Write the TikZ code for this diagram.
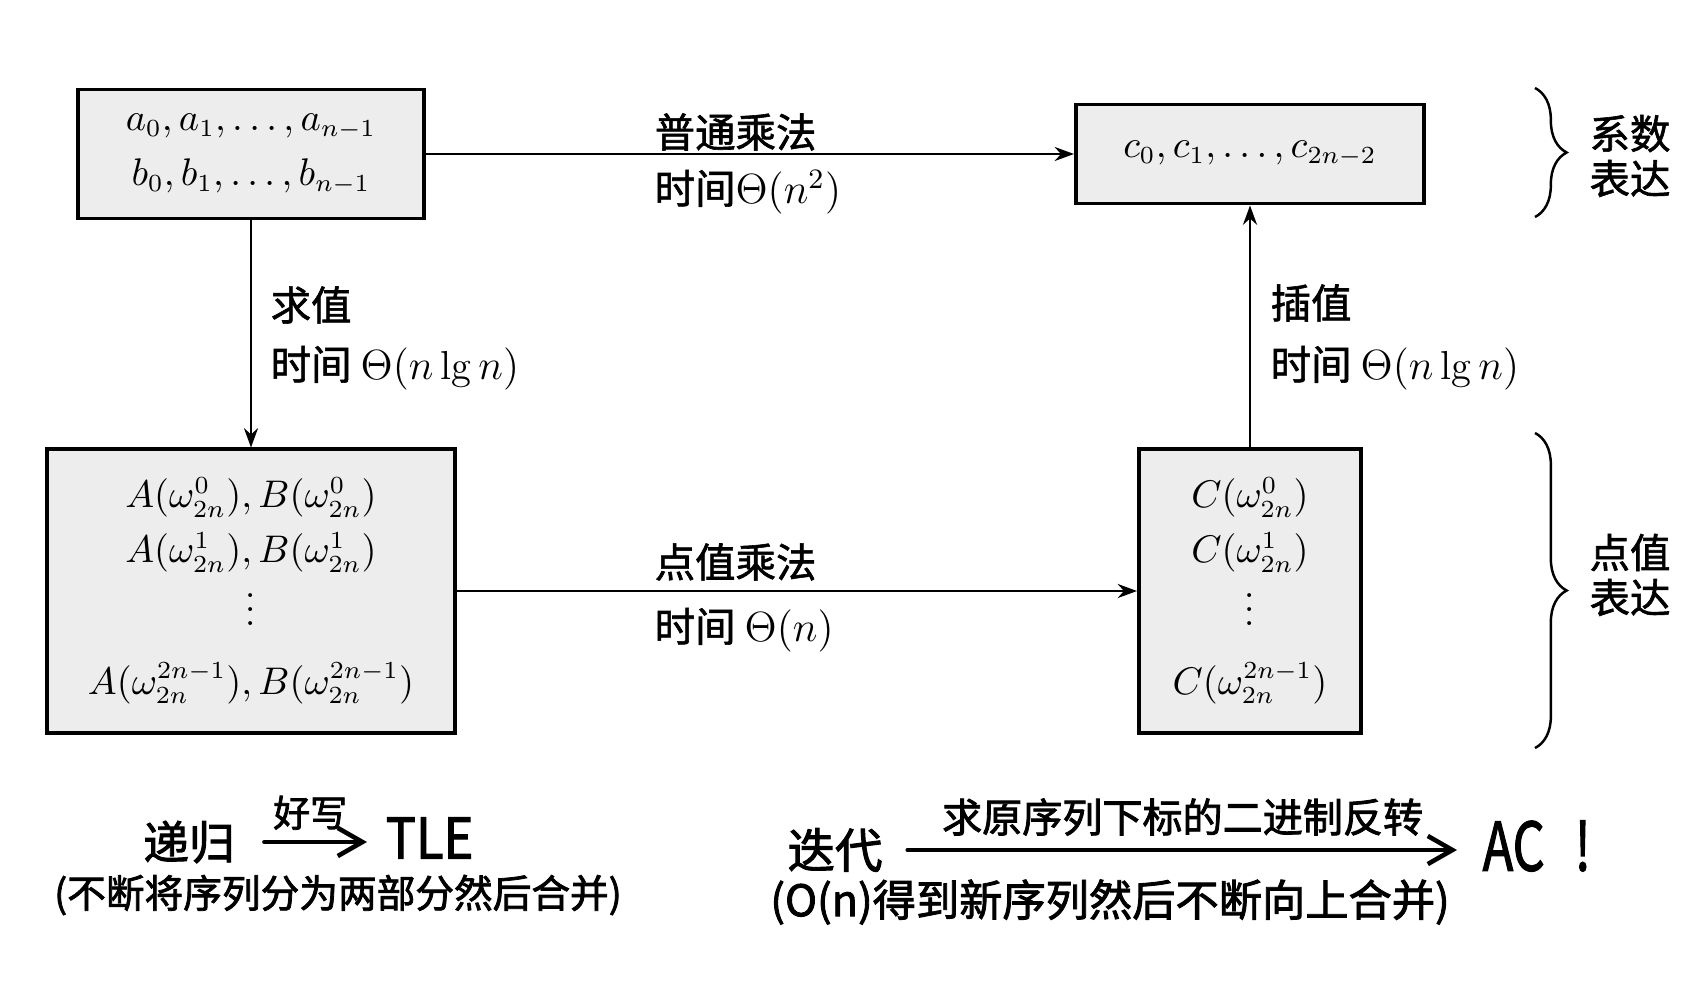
\documentclass[tikz,border=0pt]{standalone}
\usepackage{fontspec}
\usepackage{amsmath}
\newfontfamily\cjk{Noto Sans CJK SC}[FakeBold=1.5]
\newfontfamily\cjkhand{Noto Sans CJK SC}[FakeBold=2]
\usetikzlibrary{arrows.meta, positioning, calc, decorations.pathreplacing}

\begin{document}
\begin{tikzpicture}[x=0.01cm, y=-0.01cm, >={Stealth[length=5.5pt, width=4pt]},
  valbox/.style={draw, fill=gray!14, line width=1.1pt, inner sep=0pt, align=center, font=\fontsize{10.5}{15.6}\selectfont},
  lbl/.style={anchor=west, inner sep=0pt, font=\cjk\fontsize{11.5}{14}\selectfont},
  rep/.style={inner sep=0pt, align=center, font=\cjk\fontsize{11.5}{12.8}\selectfont},
  conn/.style={->, line width=0.7pt},
  grp/.style={decorate, decoration={brace, amplitude=9pt, aspect=0.5}, line width=0.7pt},
  hand/.style={inner sep=0pt, font=\cjkhand\fontsize{#1}{#1}\selectfont},
  handarrow/.style={-{Straight Barb[length=7pt, width=8pt]}, line width=1.3pt, line cap=round}]
  \useasboundingbox (0,0) rectangle (1707,997);

  % coefficient representation
  \node[valbox, minimum width=3.46cm, minimum height=1.29cm] (coefA) at (251,154)
    {$a_0, a_1, \ldots, a_{n-1}$\\$b_0, b_1, \ldots, b_{n-1}$};
  \node[valbox, minimum width=3.48cm, minimum height=0.99cm] (coefC) at (1250,154)
    {$c_0, c_1, \ldots, c_{2n-2}$};

  % point-value representation
  \node[valbox, minimum width=4.07cm, minimum height=2.83cm] (valA) at (251,591)
    {$A(\omega_{2n}^0), B(\omega_{2n}^0)$\\
     $A(\omega_{2n}^1), B(\omega_{2n}^1)$\\[-1pt]
     $\vdots$\\[4pt]
     $A(\omega_{2n}^{2n-1}), B(\omega_{2n}^{2n-1})$};
  \node[valbox, minimum width=2.22cm, minimum height=2.83cm] (valC) at (1250,591)
    {$C(\omega_{2n}^0)$\\
     $C(\omega_{2n}^1)$\\[-1pt]
     $\vdots$\\[4pt]
     $C(\omega_{2n}^{2n-1})$};

  \draw[conn] (coefA) -- (coefC);
  \draw[conn] (coefA) -- (valA);
  \draw[conn] (valA) -- (valC);
  \draw[conn] (valC) -- (coefC);

  \node[lbl] (mulName) at (654,132) {普通乘法};
  \node[lbl] (mulTime) at (654,192) {时间$\Theta(n^2)$};
  \node[lbl] (evalName) at (270,305) {求值};
  \node[lbl] (evalTime) at (270,368) {时间 $\Theta(n\lg n)$};
  \node[lbl] (interName) at (1270,303) {插值};
  \node[lbl] (interTime) at (1270,368) {时间 $\Theta(n\lg n)$};
  \node[lbl] (pmulName) at (654,562) {点值乘法};
  \node[lbl] (pmulTime) at (654,630) {时间 $\Theta(n)$};

  \draw[grp] (1535,88) -- (1535,217);
  \node[rep] (coefRep) at (1630,156) {系数\\表达};
  \draw[grp] (1535,433) -- (1535,748);
  \node[rep] (valRep) at (1630,575) {点值\\表达};

  % handwritten notes
  \node[hand=13] (rec) at (189,842) {递归};
  \node[hand=16, anchor=west] (tle) at (385,838) {\scalebox{0.9}[1]{TLE}};
  \draw[handarrow, shorten <=0.29cm, shorten >=0.18cm] (rec.east) -- (rec.east -| tle.west)
    node[midway, above=0.1cm, hand=10.5] (recWhy) {好写};
  \node[hand=11] (recNote) at (338,895) {(不断将序列分为两部分然后合并)};

  \node[hand=13.5] (iter) at (835,850) {迭代};
  \node[hand=19, anchor=west] (ac) at (1482,846) {\scalebox{0.75}[1]{AC\hspace{0.6em}!}};
  \draw[handarrow, shorten <=0.245cm, shorten >=0.25cm] (iter.east) -- (iter.east -| ac.west)
    node[midway, above=0.12cm, hand=11.4] (iterWhy) {求原序列下标的二进制反转};
  \node[hand=12.3] (iterNote) at (1110,902) {(O(n)得到新序列然后不断向上合并)};
\end{tikzpicture}
\end{document}
